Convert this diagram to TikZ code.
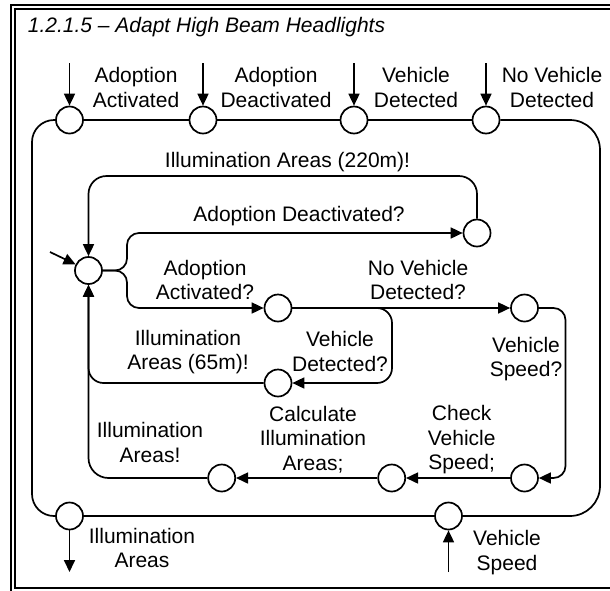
\documentclass[tikz,border=0pt]{standalone}
\usepackage{fontspec}
\setmainfont{Liberation Sans}
\usetikzlibrary{arrows.meta}

\begin{document}
\begin{tikzpicture}[
  x=1pt, y=-1pt,
  state/.style={circle, draw, fill=white, minimum size=27pt, inner sep=0pt},
  lbl/.style={align=center, inner sep=0pt, font=\fontsize{21}{24.5}\selectfont},
  ->, >={Triangle[length=12pt,width=11pt]}, line width=1.7pt
]
  \clip (0,0) rectangle (610,590);
  % frame
  \draw[-, line width=2pt] (11,5) rectangle (660,660);
  \draw[-, line width=1.2pt] (15,9) rectangle (650,588);
  \node[lbl, anchor=base west, font=\fontsize{21}{24}\selectfont\itshape] (title) at (27,32.5)
    {1.2.1.5 – Adapt High Beam Headlights};

  % outer ports
  \node[state] (aa) at (69.5,120) {};
  \node[state] (ad) at (203,120) {};
  \node[state] (vd) at (354,120) {};
  \node[state] (nvd) at (486,120) {};
  \node[state] (vs) at (448.5,516) {};
  \node[state] (ia) at (69.5,516) {};

  % inner states
  \node[state] (idle) at (88.5,270.5) {};
  \node[state] (sAD) at (477,233) {};
  \node[state] (sAA) at (278,308) {};
  \node[state] (sVD) at (278,383) {};
  \node[state] (sVS) at (524.5,308) {};
  \node[state] (sCheck) at (524.5,478) {};
  \node[state] (sCalc) at (391.7,478) {};
  \node[state] (sIA) at (221.7,478) {};

  \coordinate (aaIn) at (69.5,63);
  \coordinate (adIn) at (203,63);
  \coordinate (vdIn) at (354,63);
  \coordinate (nvdIn) at (486,63);
  \coordinate (vsIn) at (448.5,572);
  \coordinate (iaOut) at (69.5,572);
  \coordinate (start) at (50,252);
  \coordinate (cTR) at (600,120);
  \coordinate (cBR) at (600,516);
  \coordinate (cBL) at (32,516);
  \coordinate (cTL) at (32,120);
  \coordinate (top220) at (88.5,176);
  \coordinate (fork) at (127,270.5);
  \coordinate (vdTurn) at (392,383);
  \coordinate (vsTop) at (565.5,308);
  \coordinate (vsBot) at (565.5,478);

  % port labels
  \node[lbl] (aaL) at (136,87.5) {Adoption\\Activated};
  \node[lbl] (adL) at (276,87.5) {Adoption\\Deactivated};
  \node[lbl] (vdL) at (416,87.5) {Vehicle\\Detected};
  \node[lbl] (nvdL) at (552,87.5) {No Vehicle\\Detected};
  \node[lbl] (iaL) at (142,548) {Illumination\\Areas};
  \node[lbl] (vsL) at (507,552.5) {Vehicle\\Speed};

  % outer loop
  \draw[-] (aa) -- (ad);
  \draw[-] (ad) -- (vd);
  \draw[-] (vd) -- (nvd);
  \draw[-, rounded corners=30] (nvd) -- (cTR) -- (cBR) -- (vs);
  \draw[-] (vs) -- (ia);
  \draw[-, rounded corners=22] (ia.west) -- (cBL) -- (cTL) -- (aa.west);
  \draw (aaIn) -- (aa);
  \draw (adIn) -- (ad);
  \draw (vdIn) -- (vd);
  \draw (nvdIn) -- (nvd);
  \draw (vsIn) -- (vs);
  \draw (ia) -- (iaOut);

  % transitions
  \draw (start) -- (idle);
  \draw[rounded corners=18] (sAD) |- (top220) -- (idle);
  \draw[rounded corners=12] (idle) -- (fork) |- (sAD);
  \draw[rounded corners=12] (idle) -- (fork) |- (sAA);
  \draw (sAA) -- (sVS);
  \draw[rounded corners=15] (sAA) -| (vdTurn) -- (sVD);
  \draw[rounded corners=15] (sVD) -| (idle);
  \draw[rounded corners=20] (sIA) -| (idle);
  \draw[rounded corners=12] (sVS) -- (vsTop) -- (vsBot) -- (sCheck);
  \draw (sCheck) -- (sCalc);
  \draw (sCalc) -- (sIA);

  % transition labels
  \node[lbl] (l220) at (287.5,162.5) {Illumination Areas (220m)!};
  \node[lbl] (lAD) at (299,216.5) {Adoption Deactivated?};
  \node[lbl] (lAA) at (205,280) {Adoption\\Activated?};
  \node[lbl] (lNVD) at (418,280) {No Vehicle\\Detected?};
  \node[lbl] (lVD) at (340,351.7) {Vehicle\\Detected?};
  \node[lbl] (l65) at (188,352) {Illumination\\Areas (65m)!};
  \node[lbl] (lVS) at (526,359) {Vehicle\\Speed?};
  \node[lbl] (lIA) at (150,442.7) {Illumination\\Areas!};
  \node[lbl] (lCalc) at (313,439.5) {Calculate\\Illumination\\Areas;};
  \node[lbl] (lCheck) at (461.7,440) {Check\\Vehicle\\Speed;};
\end{tikzpicture}
\end{document}
